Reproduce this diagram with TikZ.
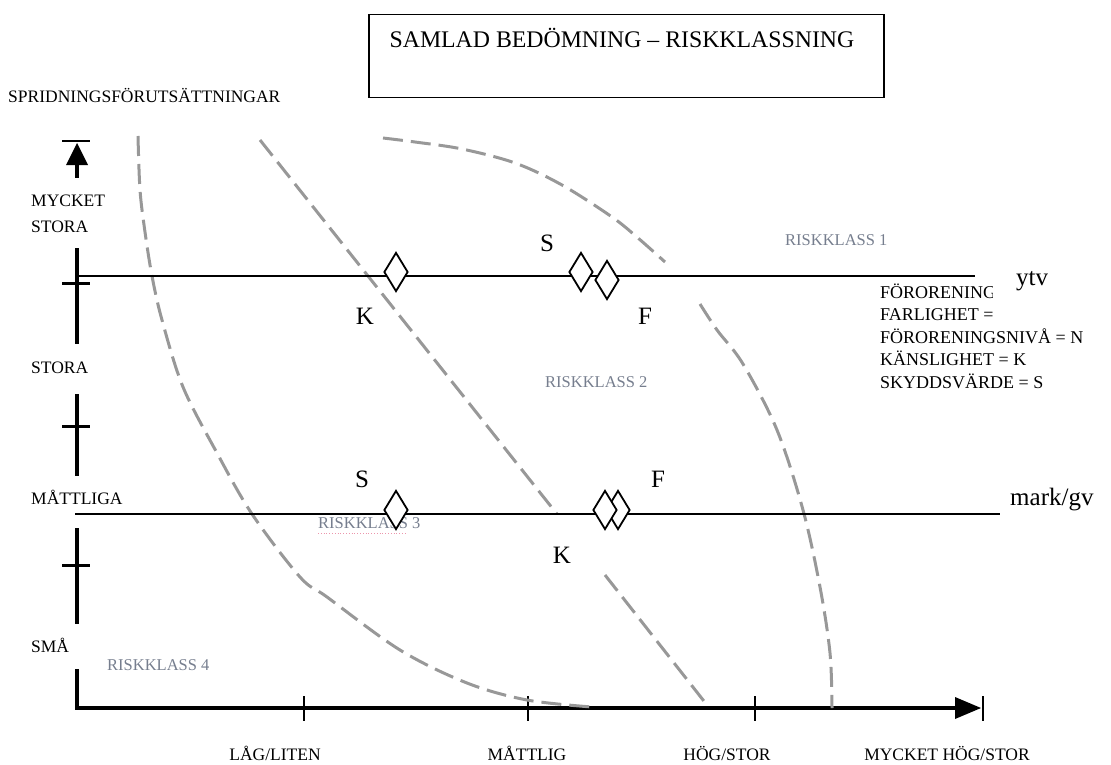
\documentclass[tikz,border=0pt]{standalone}
\usepackage{fontspec}
\setmainfont{Liberation Serif}
\usetikzlibrary{shapes.geometric}
\definecolor{zone}{RGB}{152,152,152}
\definecolor{klass}{RGB}{118,126,142}
\definecolor{spell}{RGB}{236,150,172}

\begin{document}
\begin{tikzpicture}[x=1pt,y=-1pt,
  axis/.style={line width=4pt},
  tickmark/.style={line width=3pt},
  xtick/.style={line width=2pt},
  level/.style={line width=1.8pt},
  boundary/.style={draw=zone, line width=3pt, dash pattern=on 20pt off 8pt},
  marker/.style={draw, fill=white, shape=diamond, minimum width=24pt,
    minimum height=39pt, inner sep=0pt, line width=1.8pt},
  lbl/.style={font=\fontsize{17.5}{20}\selectfont, inner sep=0pt},
  letter/.style={font=\fontsize{25}{28}\selectfont, inner sep=0pt, anchor=base},
  zonelbl/.style={font=\fontsize{16.5}{19}\selectfont, text=klass, inner sep=0pt,
    anchor=base west},
  legend/.style={font=\fontsize{18}{20}\selectfont, inner sep=0pt, anchor=base west},
  medium/.style={font=\fontsize{25}{28}\selectfont, inner sep=0pt, anchor=base west},
]
\useasboundingbox (0,0) rectangle (1111,765);

% title box
\node[draw, line width=1.5pt, anchor=north west, minimum width=515pt,
  minimum height=83pt, inner sep=0pt] (titlebox) at (368,14) {};
\node[font=\fontsize{23.8}{26}\selectfont, inner sep=0pt, anchor=base] (title)
  at (622,48) {SAMLAD BEDÖMNING – RISKKLASSNING};

% vertical axis (spreading conditions), drawn in pieces between its labels
\node[lbl, anchor=base west] (yname) at (8,103) {SPRIDNINGSFÖRUTSÄTTNINGAR};
\coordinate (ytip) at (77,143);
\draw[line width=2.5pt] (62,141) -- (90,141);
\fill (ytip) -- (66,165) -- (88,165) -- cycle;
\draw[axis] (77,164) -- (77,178);
\draw[axis] (77,248) -- (77,344);
\draw[axis] (77,394) -- (77,476);
\draw[axis] (77,528) -- (77,624);
\draw[axis] (77,669) -- (77,710);
\draw[tickmark] (62,283) -- (90,283);
\draw[tickmark] (62,426) -- (90,426);
\draw[tickmark] (62,565) -- (90,565);

\node[lbl, anchor=base west] (mycket) at (31,206) {MYCKET};
\node[lbl, anchor=base west] (storaA) at (31,232) {STORA};
\node[lbl, anchor=base west] (stora) at (31,373) {STORA};
\node[lbl, anchor=base west] (mattliga) at (31,504) {MÅTTLIGA};
\node[lbl, anchor=base west] (sma) at (31,652) {SMÅ};

% horizontal axis
\coordinate (origin) at (75,708);
\coordinate (xtip) at (981,708);
\draw[axis] (origin) -- (956,708);
\fill (xtip) -- (955,697) -- (955,719) -- cycle;
\draw[xtick] (983,696) -- (983,721);
\draw[xtick] (304,696) -- (304,721);
\draw[line width=2.8pt] (528,696) -- (528,721);
\draw[xtick] (755,696) -- (755,721);
\node[lbl, anchor=base] (lag) at (275,760) {LÅG/LITEN};
\node[lbl, anchor=base] (mattlig) at (527,760) {MÅTTLIG};
\node[lbl, anchor=base] (hog) at (727,760) {HÖG/STOR};
\node[lbl, anchor=base] (myhog) at (947,760) {MYCKET HÖG/STOR};

% risk class boundaries
\draw[boundary] plot[smooth, tension=0.55] coordinates {(138,136) (140,190) (145,232)
  (152,276) (162,320) (183,387) (217,453) (252,514) (300,577) (327,597)
  (400,650) (467,683) (527,700) (592,707)};
\draw[boundary] (260,140) -- (557,514);
\draw[boundary] (605,575) -- (707,705);
\draw[boundary] plot[smooth, tension=0.55] coordinates {(383,138) (415,142) (462,149)
  (515,163) (562,185) (612,217) (638,238) (665,262)};
\draw[boundary] plot[smooth, tension=0.55] coordinates {(700,304) (717,330) (743,364)
  (777,430) (803,510) (820,587) (830,653) (832,708)};

% risk class names
\node[zonelbl] (rk1) at (785,245) {RISKKLASS 1};
\node[zonelbl] (rk2) at (545,387) {RISKKLASS 2};
\node[zonelbl] (rk3) at (318,528) {RISKKLASS 3};
\draw[spell, line width=0.8pt, dotted] (318,533) -- (407,533);
\node[zonelbl] (rk4) at (107,670) {RISKKLASS 4};

% levels: surface water and ground/groundwater
\coordinate (ytvL) at (77,276);
\coordinate (ytvR) at (975,276);
\coordinate (markL) at (75,514);
\coordinate (markR) at (1000,514);
\draw[level] (ytvL) -- (ytvR);
\draw[level] (markL) -- (markR);

% assessment markers on the surface water level
\node[marker] (ytvK) at (396,272) {};
\node[marker] (ytvF) at (607,280) {};
\node[marker] (ytvS) at (581,272) {};
\node[letter] (ytvSl) at (547,251) {S};
\node[letter] (ytvKl) at (365,324) {K};
\node[letter] (ytvFl) at (645,324) {F};

% assessment markers on the ground level
\node[marker] (markS) at (396,510) {};
\node[marker] (markF) at (618,510) {};
\node[marker] (markK) at (605,510) {};
\node[letter] (markSl) at (362,487) {S};
\node[letter] (markFl) at (658,487) {F};
\node[letter] (markKl) at (562,563) {K};

% legend; the first two rows run under the level name and are cut off there
\begin{scope}
  \clip (870,270) rectangle (992,330);
  \node[legend] (lg1) at (880,298) {FÖRORENING};
  \node[legend] (lg2) at (880,320) {FARLIGHET =};
\end{scope}
\node[legend] (lg3) at (880,343) {FÖRORENINGSNIVÅ = N};
\node[legend] (lg4) at (880,365) {KÄNSLIGHET = K};
\node[legend] (lg5) at (880,388) {SKYDDSVÄRDE = S};

\node[medium] (ytv) at (1016,285) {ytv};
\node[medium] (markgv) at (1010,505) {mark/gv};
\end{tikzpicture}
\end{document}
